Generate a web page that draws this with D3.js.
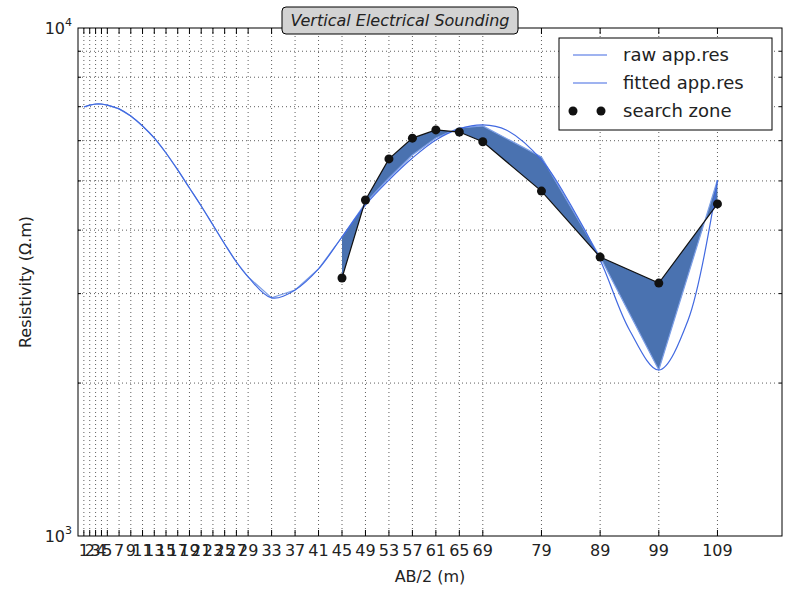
<!DOCTYPE html>
<html><head><meta charset="utf-8">
<script src="https://cdn.jsdelivr.net/npm/d3@7"></script>
<style>body{margin:0;background:#fff}svg{font-family:"DejaVu Sans",sans-serif}</style>
</head><body><div id="chart"></div>
<script>
var xTicks = [1,2,3,4,5,7,9,11,13,15,17,19,21,23,25,27,29,33,37,41,45,49,53,57,61,65,69,79,89,99,109]
var rawRes = [6990,7050,7085,7085,7050,6930,6710,6415,6075,5675,5255,4842,4462,4095,3756,3462,3236,2942,3050,3355,3878,4524,5067,5623,6075,6358,6415,5573,3541,2122,5020]
var fitX = [1,2,3,4,5,7,9,11,13,15,17,19,21,23,25,27,29,33,37,41,45,49,53,57,61,65,69,73,79,84,89,94,99,104,109]
var fitRes = [6990,7050,7085,7085,7050,6930,6710,6415,6075,5675,5255,4842,4462,4095,3756,3462,3236,2942,3050,3355,3878,4483,5020,5547,6020,6330,6445,6300,5498,4483,3494,2544,2122,2663,5020]
var zoneX = [45,49,53,57,61,65,69,79,89,99,109]
var zoneRes = [3220,4585,5525,6070,6300,6240,5970,4775,3540,3147,4505]

var margin = {top: 28, right: 18, bottom: 64, left: 78}
var width = 800, height = 600
var svg = d3.select('#chart').append('svg').attr('width', width).attr('height', height)

var x = d3.scaleLinear().domain([0, 120]).range([margin.left, width - margin.right])
var y = d3.scaleLog().domain([1000, 10000]).range([height - margin.bottom, margin.top])
var yTop = margin.top, yBot = height - margin.bottom, xL = margin.left, xR = width - margin.right

var minorY = d3.range(2, 10).map(d => d * 1000)

// grid
var grid = svg.append('g').attr('stroke', '#333').attr('stroke-dasharray', '1,3').attr('stroke-width', 0.8)
grid.selectAll('.gx').data(xTicks).join('line')
  .attr('x1', d => x(d)).attr('x2', d => x(d)).attr('y1', yTop).attr('y2', yBot)
grid.selectAll('.gy').data(minorY).join('line')
  .attr('y1', d => y(d)).attr('y2', d => y(d)).attr('x1', xL).attr('x2', xR)

// fill between raw and search zone
var rawZone = zoneX.map(v => rawRes[xTicks.indexOf(v)])
var area = d3.area().x((d, i) => x(zoneX[i])).y0((d, i) => y(rawZone[i])).y1(d => y(d))
svg.append('path').datum(zoneRes).attr('d', area).attr('fill', '#4a72b0')

var rawLine = d3.line().x((d, i) => x(xTicks[i])).y(d => y(d))
svg.append('path').datum(rawRes).attr('d', rawLine).attr('fill', 'none')
  .attr('stroke', '#7d9fe6').attr('stroke-width', 1.2)

var fitLine = d3.line().x((d, i) => x(fitX[i])).y(d => y(d)).curve(d3.curveCatmullRom)
svg.append('path').datum(fitRes).attr('d', fitLine).attr('fill', 'none')
  .attr('stroke', '#4169e1').attr('stroke-width', 1.2)

var zoneLine = d3.line().x((d, i) => x(zoneX[i])).y(d => y(d))
svg.append('path').datum(zoneRes).attr('d', zoneLine).attr('fill', 'none')
  .attr('stroke', '#111').attr('stroke-width', 1.2)
svg.append('g').selectAll('circle').data(zoneRes).join('circle')
  .attr('cx', (d, i) => x(zoneX[i])).attr('cy', d => y(d)).attr('r', 4.5).attr('fill', '#111')

// frame and ticks
svg.append('rect').attr('x', xL).attr('y', yTop).attr('width', xR - xL).attr('height', yBot - yTop)
  .attr('fill', 'none').attr('stroke', '#000')
var tk = svg.append('g').attr('stroke', '#000')
xTicks.forEach(d => {
  tk.append('line').attr('x1', x(d)).attr('x2', x(d)).attr('y1', yBot).attr('y2', yBot - 6)
  tk.append('line').attr('x1', x(d)).attr('x2', x(d)).attr('y1', yTop).attr('y2', yTop + 6)
})
minorY.forEach(d => {
  tk.append('line').attr('y1', y(d)).attr('y2', y(d)).attr('x1', xL).attr('x2', xL + 3)
  tk.append('line').attr('y1', y(d)).attr('y2', y(d)).attr('x1', xR).attr('x2', xR - 3)
})
svg.append('g').attr('font-size', 16).attr('fill', '#222').attr('text-anchor', 'middle')
  .selectAll('text').data(xTicks).join('text')
  .attr('x', d => x(d)).attr('y', yBot + 20).text(d => d)

;[[1000, '3'], [10000, '4']].forEach(([v, e]) => {
  var t = svg.append('text').attr('x', xL - 6).attr('y', y(v) + 6).attr('text-anchor', 'end')
    .attr('font-size', 16).attr('fill', '#222')
  t.append('tspan').text('10')
  t.append('tspan').attr('font-size', 11).attr('dy', -8).text(e)
})

svg.append('text').attr('x', (xL + xR) / 2).attr('y', 582).attr('text-anchor', 'middle')
  .attr('font-size', 16).attr('fill', '#222').text('AB/2 (m)')
svg.append('text').attr('transform', `translate(31,${(yTop + yBot) / 2}) rotate(-90)`)
  .attr('text-anchor', 'middle').attr('font-size', 16).attr('fill', '#222').text('Resistivity (Ω.m)')

// title
svg.append('rect').attr('x', 282).attr('y', 7).attr('width', 236).attr('height', 27).attr('rx', 4)
  .attr('fill', '#d3d3d3').attr('stroke', '#000')
svg.append('text').attr('x', 400).attr('y', 26).attr('text-anchor', 'middle')
  .attr('font-size', 16).attr('font-style', 'italic').attr('fill', '#222').text('Vertical Electrical Sounding')

// legend
var lg = svg.append('g')
lg.append('rect').attr('x', 559).attr('y', 38).attr('width', 213).attr('height', 92)
  .attr('fill', '#fff').attr('stroke', '#000')
var items = [['raw app.res', '#4169e1', false], ['fitted app.res', '#4169e1', false], ['search zone', '#111', true]]
items.forEach(([label, c, dots], i) => {
  var yy = 55 + i * 28
  if (dots) {
    lg.append('circle').attr('cx', 573).attr('cy', yy).attr('r', 4.5).attr('fill', c)
    lg.append('circle').attr('cx', 601).attr('cy', yy).attr('r', 4.5).attr('fill', c)
  } else {
    lg.append('line').attr('x1', 573).attr('x2', 607).attr('y1', yy).attr('y2', yy).attr('stroke', c).attr('stroke-width', 1.2)
  }
  lg.append('text').attr('x', 623).attr('y', yy + 6).attr('font-size', 18).attr('fill', '#222').text(label)
})
</script></body></html>
